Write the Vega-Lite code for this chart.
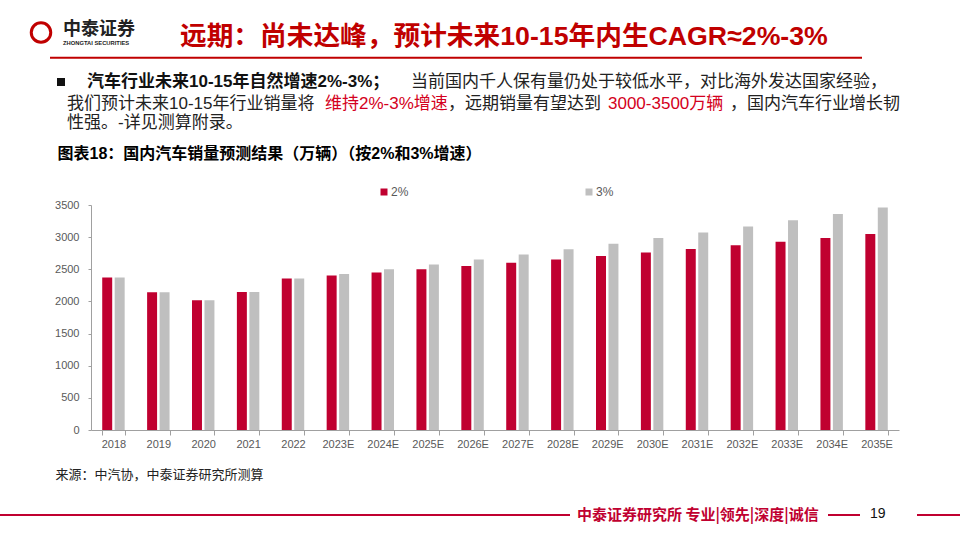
{
  "$schema": "https://vega.github.io/schema/vega-lite/v6.json",
  "width": 808,
  "height": 225,
  "autosize": "none",
  "padding": {"left": 91, "top": 205, "right": 61, "bottom": 110},
  "background": "white",
  "config": {
    "view": {"stroke": null},
    "axis": {"labelFont": "Liberation Sans", "labelFontSize": 11, "labelColor": "#595959", "domainColor": "#A0A0A0", "tickColor": "#A0A0A0", "grid": false},
    "text": {"font": "'Liberation Sans', 'Noto Sans CJK SC'", "baseline": "middle", "align": "left"}
  },
  "layer": [
    {
      "data": {
        "values": [
          {"year": "2018", "series": "2%", "sales": 2371},
          {"year": "2018", "series": "3%", "sales": 2371},
          {"year": "2019", "series": "2%", "sales": 2144},
          {"year": "2019", "series": "3%", "sales": 2144},
          {"year": "2020", "series": "2%", "sales": 2018},
          {"year": "2020", "series": "3%", "sales": 2018},
          {"year": "2021", "series": "2%", "sales": 2148},
          {"year": "2021", "series": "3%", "sales": 2148},
          {"year": "2022", "series": "2%", "sales": 2356},
          {"year": "2022", "series": "3%", "sales": 2356},
          {"year": "2023E", "series": "2%", "sales": 2403},
          {"year": "2023E", "series": "3%", "sales": 2427},
          {"year": "2024E", "series": "2%", "sales": 2451},
          {"year": "2024E", "series": "3%", "sales": 2500},
          {"year": "2025E", "series": "2%", "sales": 2500},
          {"year": "2025E", "series": "3%", "sales": 2575},
          {"year": "2026E", "series": "2%", "sales": 2550},
          {"year": "2026E", "series": "3%", "sales": 2652},
          {"year": "2027E", "series": "2%", "sales": 2601},
          {"year": "2027E", "series": "3%", "sales": 2731},
          {"year": "2028E", "series": "2%", "sales": 2653},
          {"year": "2028E", "series": "3%", "sales": 2813},
          {"year": "2029E", "series": "2%", "sales": 2706},
          {"year": "2029E", "series": "3%", "sales": 2898},
          {"year": "2030E", "series": "2%", "sales": 2760},
          {"year": "2030E", "series": "3%", "sales": 2985},
          {"year": "2031E", "series": "2%", "sales": 2816},
          {"year": "2031E", "series": "3%", "sales": 3074},
          {"year": "2032E", "series": "2%", "sales": 2872},
          {"year": "2032E", "series": "3%", "sales": 3166},
          {"year": "2033E", "series": "2%", "sales": 2930},
          {"year": "2033E", "series": "3%", "sales": 3261},
          {"year": "2034E", "series": "2%", "sales": 2988},
          {"year": "2034E", "series": "3%", "sales": 3359},
          {"year": "2035E", "series": "2%", "sales": 3048},
          {"year": "2035E", "series": "3%", "sales": 3460}
        ]
      },
      "mark": {"type": "bar"},
      "encoding": {
        "x": {
          "field": "year", "type": "nominal", "sort": null,
          "scale": {"paddingInner": 0.5, "paddingOuter": 0.25},
          "axis": {
            "labelAngle": 0, "tickBand": "extent", "tickSize": 5, "labelPadding": 3,
            "title": "来源：中汽协，中泰证券研究所测算",
            "titleX": -36, "titleY": 44, "titleAlign": "left", "titleAnchor": "start",
            "titleBaseline": "middle", "titleFont": "Noto Sans CJK SC", "titleFontSize": 13,
            "titleFontWeight": "normal", "titleColor": "#222222"
          }
        },
        "xOffset": {"field": "series", "type": "nominal", "sort": ["2%", "3%"], "scale": {"paddingInner": 0.2}},
        "y": {
          "field": "sales", "type": "quantitative",
          "scale": {"domain": [0, 3500], "nice": false},
          "axis": {
            "values": [0, 500, 1000, 1500, 2000, 2500, 3000, 3500], "format": "d",
            "tickSize": 3, "labelPadding": 9,
            "title": "图表18：国内汽车销量预测结果（万辆）（按2%和3%增速）",
            "titleAngle": 0, "titleX": -34, "titleY": -52, "titleAlign": "left", "titleAnchor": "start",
            "titleBaseline": "middle", "titleFont": "'Liberation Sans', 'Noto Sans CJK SC'", "titleFontSize": 16,
            "titleFontWeight": "bold", "titleColor": "#000000"
          }
        },
        "color": {
          "field": "series", "type": "nominal",
          "scale": {"domain": ["2%", "3%"], "range": ["#C00030", "#BFBFBF"]},
          "legend": {
            "orient": "none", "legendX": 287, "legendY": -19, "direction": "horizontal",
            "title": null, "symbolType": "square", "symbolSize": 49, "symbolStrokeWidth": 0,
            "labelFont": "Liberation Sans", "labelFontSize": 12, "labelColor": "#595959",
            "labelOffset": 1, "columnPadding": 174
          }
        }
      }
    },
    {
      "data": {"values": [{"t": "远期：尚未达峰，预计未来10-15年内生CAGR≈2%-3%"}]},
      "mark": {"type": "text", "baseline": "alphabetic", "fontSize": 26.7, "fontWeight": "bold", "color": "#C00000"},
      "encoding": {"text": {"field": "t"}, "x": {"value": 89}, "y": {"value": -160}}
    },
    {
      "data": {"values": [{"t": "logo"}]},
      "mark": {"type": "point", "shape": "circle", "filled": false, "color": "#C00000", "strokeWidth": 3, "size": 380, "opacity": 1},
      "encoding": {"x": {"value": -50}, "y": {"value": -172.5}}
    },
    {
      "data": {"values": [{"t": "中泰证券"}]},
      "mark": {"type": "text", "font": "Noto Sans CJK SC", "fontSize": 18, "fontWeight": "bold", "color": "#222222"},
      "encoding": {"text": {"field": "t"}, "x": {"value": -28}, "y": {"value": -175}}
    },
    {
      "data": {"values": [{"t": "ZHONGTAI SECURITIES"}]},
      "mark": {"type": "text", "font": "Liberation Sans", "fontSize": 5.8, "fontWeight": "bold", "color": "#222222"},
      "encoding": {"text": {"field": "t"}, "x": {"value": -28}, "y": {"value": -162}}
    },
    {
      "data": {"values": [{"t": "title rule"}]},
      "mark": {"type": "rule", "color": "#C00000", "strokeWidth": 2},
      "encoding": {"x": {"value": -41}, "x2": {"value": 771}, "y": {"value": -147.3}}
    },
    {
      "data": {"values": [{"t": "bullet"}]},
      "mark": {"type": "point", "shape": "square", "filled": true, "color": "#111111", "size": 64, "opacity": 1},
      "encoding": {"x": {"value": -30}, "y": {"value": -123}}
    },
    {
      "data": {"values": [{"t": "汽车行业未来10-15年自然增速2%-3%；"}]},
      "mark": {"type": "text", "fontSize": 17, "fontWeight": "bold", "color": "#111111"},
      "encoding": {"text": {"field": "t"}, "x": {"value": -4}, "y": {"value": -123.3}}
    },
    {
      "data": {"values": [{"t": "当前国内千人保有量仍处于较低水平，对比海外发达国家经验，"}]},
      "mark": {"type": "text", "fontSize": 17, "color": "#222222"},
      "encoding": {"text": {"field": "t"}, "x": {"value": 320}, "y": {"value": -123.3}}
    },
    {
      "data": {"values": [{"t": "我们预计未来10-15年行业销量将"}]},
      "mark": {"type": "text", "fontSize": 17, "color": "#222222"},
      "encoding": {"text": {"field": "t"}, "x": {"value": -24}, "y": {"value": -101.3}}
    },
    {
      "data": {"values": [{"t": "维持2%-3%增速"}]},
      "mark": {"type": "text", "fontSize": 17, "color": "#D40020"},
      "encoding": {"text": {"field": "t"}, "x": {"value": 234}, "y": {"value": -101.3}}
    },
    {
      "data": {"values": [{"t": "，远期销量有望达到"}]},
      "mark": {"type": "text", "fontSize": 17, "color": "#222222"},
      "encoding": {"text": {"field": "t"}, "x": {"value": 357}, "y": {"value": -101.3}}
    },
    {
      "data": {"values": [{"t": "3000-3500万辆"}]},
      "mark": {"type": "text", "fontSize": 17, "color": "#D40020"},
      "encoding": {"text": {"field": "t"}, "x": {"value": 517}, "y": {"value": -101.3}}
    },
    {
      "data": {"values": [{"t": "，国内汽车行业增长韧"}]},
      "mark": {"type": "text", "fontSize": 17, "color": "#222222"},
      "encoding": {"text": {"field": "t"}, "x": {"value": 639}, "y": {"value": -101.3}}
    },
    {
      "data": {"values": [{"t": "性强。-详见测算附录。"}]},
      "mark": {"type": "text", "fontSize": 17, "color": "#222222"},
      "encoding": {"text": {"field": "t"}, "x": {"value": -24}, "y": {"value": -82.5}}
    },
    {
      "data": {"values": [{"t": "中泰证券研究所 专业|领先|深度|诚信"}]},
      "mark": {"type": "text", "font": "Noto Sans CJK SC", "fontSize": 15, "fontWeight": "bold", "color": "#C00030"},
      "encoding": {"text": {"field": "t"}, "x": {"value": 486}, "y": {"value": 310}}
    },
    {
      "data": {"values": [{"t": "19"}]},
      "mark": {"type": "text", "font": "Liberation Sans", "fontSize": 14, "color": "#111111"},
      "encoding": {"text": {"field": "t"}, "x": {"value": 779}, "y": {"value": 309}}
    },
    {
      "data": {"values": [{"t": "footer rule"}]},
      "mark": {"type": "rule", "color": "#C00030", "strokeWidth": 2},
      "encoding": {"x": {"value": -91}, "x2": {"value": 479}, "y": {"value": 310}}
    },
    {
      "data": {"values": [{"t": "footer rule 2"}]},
      "mark": {"type": "rule", "color": "#C00030", "strokeWidth": 2},
      "encoding": {"x": {"value": 737}, "x2": {"value": 769}, "y": {"value": 310}}
    },
    {
      "data": {"values": [{"t": "footer rule 3"}]},
      "mark": {"type": "rule", "color": "#C00030", "strokeWidth": 2},
      "encoding": {"x": {"value": 826}, "x2": {"value": 869}, "y": {"value": 310}}
    }
  ]
}
